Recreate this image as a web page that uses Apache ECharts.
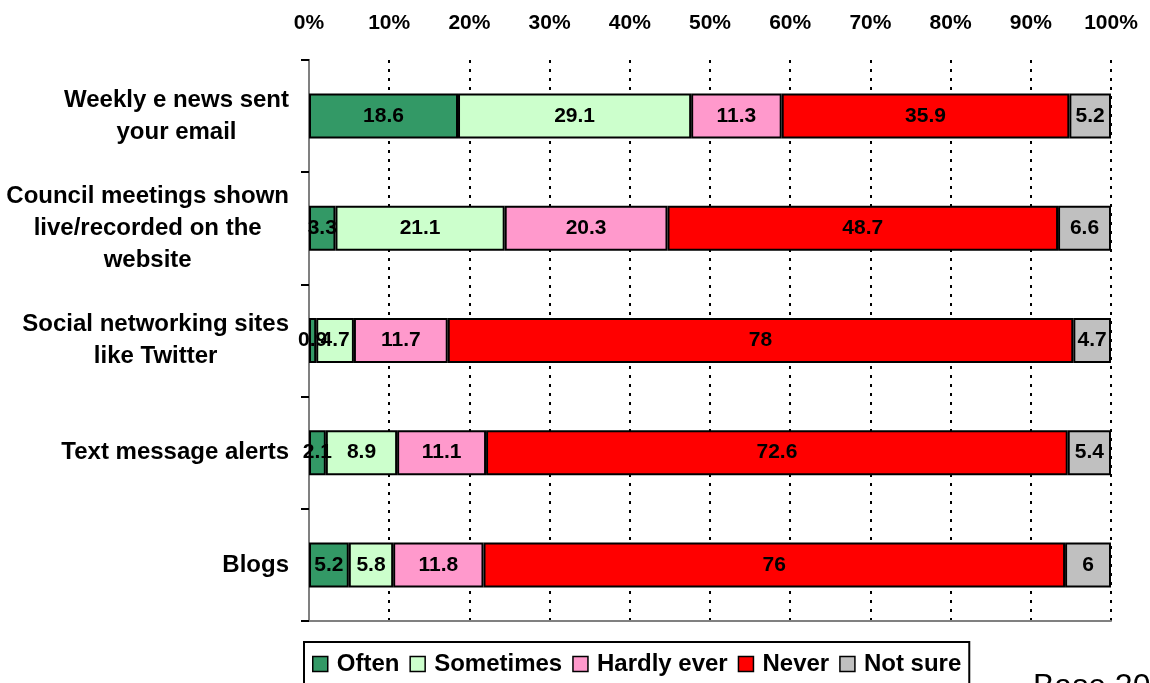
<!DOCTYPE html>
<html>
<head>
<meta charset="utf-8">
<title>Use of council online channels</title>
<script src="https://cdn.jsdelivr.net/npm/echarts@6/dist/echarts.min.js"></script>
<style>
  html, body { margin: 0; padding: 0; background: #fff; overflow: hidden; }
  #chart { width: 1150px; height: 683px; }
</style>
</head>
<body>
<div id="chart"></div>
<script>
// Channels (top to bottom)
const categories = [
  'Weekly e news sent\nyour email',
  'Council meetings shown\nlive/recorded on the\nwebsite',
  'Social networking sites\nlike Twitter',
  'Text message alerts',
  'Blogs'
];

// Responses per channel (%)
const often      = [18.6, 3.3, 0.9, 2.1, 5.2];
const sometimes  = [29.1, 21.1, 4.7, 8.9, 5.8];
const hardlyEver = [11.3, 20.3, 11.7, 11.1, 11.8];
const never      = [35.9, 48.7, 78, 72.6, 76];
const notSure    = [5.2, 6.6, 4.7, 5.4, 6];

const seriesNames  = ['Often', 'Sometimes', 'Hardly ever', 'Never', 'Not sure'];
const seriesColors = ['#339966', '#CCFFCC', '#FF99CC', '#FF0000', '#C0C0C0'];
const xTicks = [0, 10, 20, 30, 40, 50, 60, 70, 80, 90, 100];

const FONT = '"Liberation Sans", Arial, Helvetica, sans-serif';
const values = [often, sometimes, hardlyEver, never, notSure];

// 100% stacked: each row is scaled to its own total
const rowTotals = categories.map((_, j) => values.reduce((s, arr) => s + arr[j], 0));

const series = values.map((arr, i) => ({
  name: seriesNames[i],
  type: 'bar',
  stack: 'total',
  barWidth: 45,
  data: arr.map((v, j) => v / rowTotals[j] * 100),
  itemStyle: { color: seriesColors[i], borderColor: '#000', borderWidth: 2 },
  label: {
    show: true,
    position: 'inside',
    color: '#000',
    fontFamily: FONT,
    fontWeight: 'bold',
    fontSize: 21,
    formatter: p => String(values[i][p.dataIndex])
  },
  emphasis: { disabled: true }
}));

const chart = echarts.init(document.getElementById('chart'), null, { renderer: 'canvas' });
chart.setOption({
  animation: false,
  backgroundColor: '#fff',
  grid: { left: 309, right: 39, top: 60, bottom: 62, containLabel: false },
  xAxis: [{
    type: 'value',
    position: 'top',
    min: 0,
    max: 100,
    interval: 10,
    axisLine: { show: false },
    axisTick: { show: false },
    axisLabel: {
      margin: 26,
      color: '#000',
      fontFamily: FONT,
      fontWeight: 'bold',
      fontSize: 21,
      formatter: v => (xTicks.includes(v) ? v + '%' : '')
    },
    splitLine: { show: true, lineStyle: { color: '#000', width: 2, type: [3, 6] } }
  }, {
    type: 'value',
    position: 'bottom',
    min: 0,
    max: 100,
    axisLine: { show: true, lineStyle: { color: '#808080', width: 2 } },
    axisTick: { show: false },
    axisLabel: { show: false },
    splitLine: { show: false }
  }],
  yAxis: [{
    type: 'category',
    inverse: true,
    data: categories,
    axisLine: { show: true, lineStyle: { color: '#000', width: 2 } },
    axisTick: { show: true, length: 8, lineStyle: { color: '#000', width: 2 } },
    axisLabel: {
      margin: 20,
      align: 'right',
      color: '#000',
      fontFamily: FONT,
      fontWeight: 'bold',
      fontSize: 24,
      formatter: v => v.split('\n').map(s => '{c|' + s + '}').join('\n'),
      rich: {
        c: {
          align: 'center',
          color: '#000',
          fontFamily: FONT,
          fontWeight: 'bold',
          fontSize: 24,
          lineHeight: 32
        }
      }
    }
  }, {
    type: 'category',
    inverse: true,
    position: 'right',
    data: categories,
    axisLine: { show: true, lineStyle: { color: '#808080', width: 2 } },
    axisTick: { show: false },
    axisLabel: { show: false }
  }],
  legend: {
    data: seriesNames,
    left: 304,
    top: 642,
    orient: 'horizontal',
    padding: [10, 8, 24, 8],
    itemGap: 10,
    itemWidth: 15,
    itemHeight: 15,
    borderColor: '#000',
    borderWidth: 2,
    icon: 'rect',
    itemStyle: { borderColor: '#000', borderWidth: 1.5 },
    textStyle: { color: '#000', fontFamily: FONT, fontWeight: 'bold', fontSize: 24, padding: [0, 0, 0, 4] },
    selectedMode: false
  },
  graphic: [{
    type: 'text',
    left: 1033,
    top: 671,
    style: { text: 'Base 20', fill: '#000', font: '32px ' + FONT }
  }],
  series: series
});
</script>
</body>
</html>
